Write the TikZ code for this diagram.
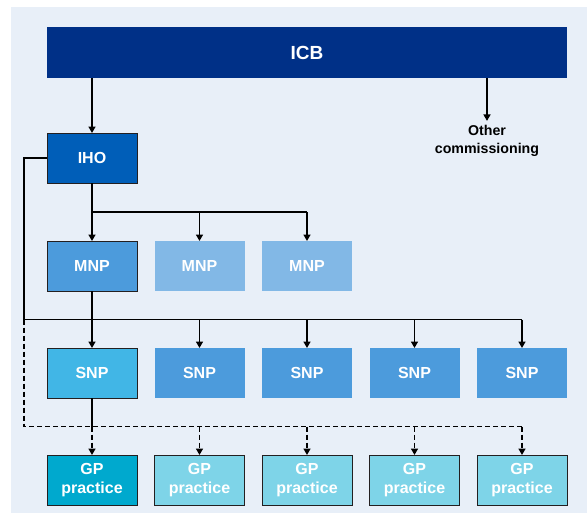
\documentclass[tikz,border=0pt]{standalone}
\usepackage{fontspec}
\setmainfont{Liberation Sans}
\usetikzlibrary{positioning,arrows.meta,calc}

\definecolor{bgblue}{HTML}{E8EFF8}
\definecolor{icbblue}{HTML}{003087}
\definecolor{ihoblue}{HTML}{005EB8}
\definecolor{midblue}{HTML}{4C9BDC}
\definecolor{paleblue}{HTML}{82B8E6}
\definecolor{skyblue}{HTML}{41B6E6}
\definecolor{gpteal}{HTML}{00A9CE}
\definecolor{gppale}{HTML}{7ED4E8}
\definecolor{edgegrey}{HTML}{231F20}

\begin{document}
\begin{tikzpicture}[
    x=1pt, y=-1pt,
    box/.style={
        fill=#1,
        text=white,
        align=center,
        inner sep=0pt,
        outer sep=0pt,
        minimum width=90pt,
        minimum height=50pt,
        font=\bfseries\fontsize{16}{19.5}\selectfont
    },
    edged/.style={
        draw=edgegrey,
        line width=1pt
    },
    line/.style={line width=1.6pt, draw=black},
    arrow/.style={line, -{Triangle[length=6.5pt,width=7pt]}},
    dashline/.style={dash pattern=on 5pt off 3pt}
]

% background
\useasboundingbox (0,0) rectangle (587,515);
\fill[bgblue] (11,7) rectangle (587,513);

% top level
\node[box=icbblue, minimum width=520pt, minimum height=51pt,
      font=\bfseries\fontsize{19}{22}\selectfont] (icb) at (307,52.5) {ICB};
\node[align=center, inner sep=4pt, font=\bfseries\fontsize{14.2}{18.5}\selectfont] (other) at (487,141) {Other\\commissioning};
\node[box=ihoblue, edged] (iho) at (92,158) {IHO};

% MNP row
\node[box=midblue, edged] (mnp1) at (92,266) {MNP};
\node[box=paleblue, right=17.5pt of mnp1] (mnp2) {MNP};
\node[box=paleblue, right=17.5pt of mnp2] (mnp3) {MNP};

% SNP row
\node[box=skyblue, edged] (snp1) at (92,373) {SNP};
\node[box=midblue, right=17.5pt of snp1] (snp2) {SNP};
\node[box=midblue, right=17.5pt of snp2] (snp3) {SNP};
\node[box=midblue, right=17.5pt of snp3] (snp4) {SNP};
\node[box=midblue, right=17.5pt of snp4] (snp5) {SNP};

% GP row
\node[box=gpteal, edged] (gp1) at (92,480) {GP\\practice};
\node[box=gppale, edged, right=17.5pt of gp1] (gp2) {GP\\practice};
\node[box=gppale, edged, right=17.5pt of gp2] (gp3) {GP\\practice};
\node[box=gppale, edged, right=17.5pt of gp3] (gp4) {GP\\practice};
\node[box=gppale, edged, right=17.5pt of gp4] (gp5) {GP\\practice};

% bus lines
\coordinate (mbus) at ($(iho.south)!0.5!(mnp1.north)$);
\coordinate (sbus) at ($(mnp1.south)!0.5!(snp1.north)$);
\coordinate (gbus) at ($(snp1.south)!0.5!(gp1.north)$);
\coordinate (left) at ([xshift=-23pt]iho.west);

\draw[arrow] (icb.south -| iho) -- (iho);
\draw[arrow] (icb.south -| other) -- (other);

\draw[arrow] (iho) -- (mnp1);
\draw[line] (mbus) -- (mbus -| mnp3);
\foreach \i in {2,3}
    \draw[arrow] (mbus -| mnp\i) -- (mnp\i);

\draw[arrow] (mnp1) -- (snp1);
\draw[line] (iho.west) -- (left) -- (left |- sbus) -- (sbus -| snp5);
\foreach \i in {2,...,5}
    \draw[arrow] (sbus -| snp\i) -- (snp\i);

\draw[line] (snp1) -- (gbus);
\draw[line, dashline] (left |- sbus) -- (left |- gbus) -- (gbus -| gp5);
\foreach \i in {1,...,5}
    \draw[arrow, dashline] (gbus -| gp\i) -- (gp\i);

\end{tikzpicture}
\end{document}
